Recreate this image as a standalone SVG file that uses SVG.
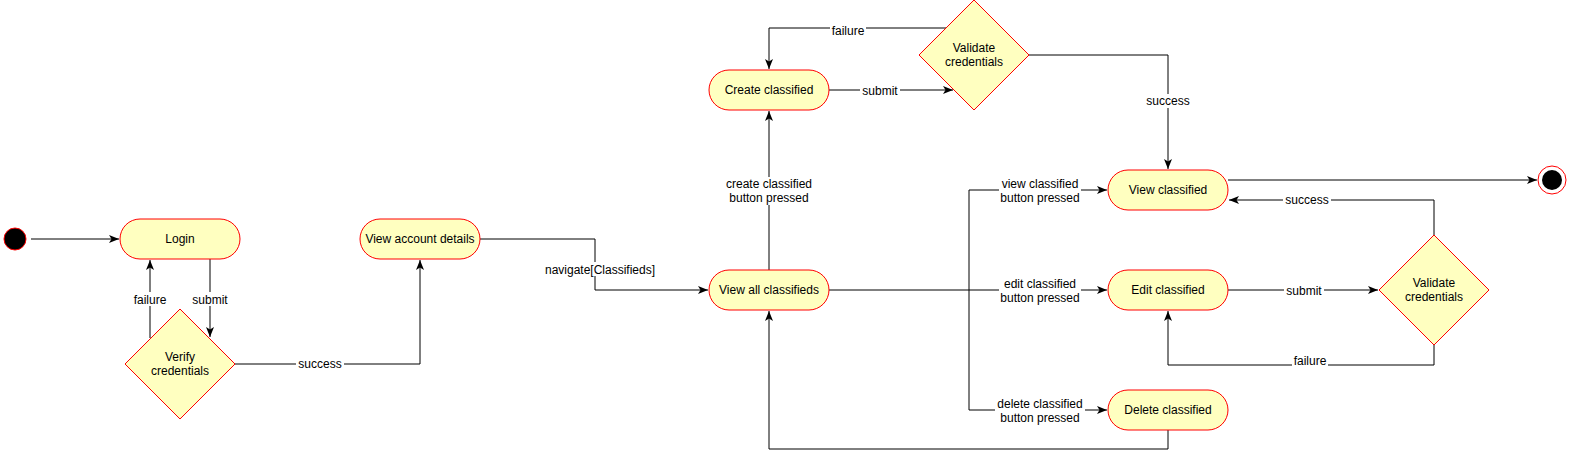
<svg xmlns="http://www.w3.org/2000/svg" width="1571" height="459" viewBox="0 0 1571 459">
<style>
.node{fill:#ffffc0;stroke:#ff0000;stroke-width:1}
.t{font-family:"Liberation Sans",Arial,sans-serif;font-size:12px;fill:#000;text-anchor:middle}
.l{font-family:"Liberation Sans",Arial,sans-serif;font-size:12px;fill:#000;text-anchor:middle}
.e{fill:none;stroke:#000;stroke-width:1}
.bg{fill:#fff}
</style>
<defs>
<marker id="a" viewBox="0 0 10 10" refX="10" refY="5" markerWidth="10" markerHeight="10" markerUnits="userSpaceOnUse" orient="auto">
<path d="M0,1 L10,5 L0,9 L2.5,5 Z" fill="#000"/>
</marker>
</defs>
<rect width="1571" height="459" fill="#fff"/>
<g id="connectors">
<path class="e" d="M31,239 H119" marker-end="url(#a)"/>
<path class="e" d="M210,259 V337" marker-end="url(#a)"/>
<path class="e" d="M150,338 V260" marker-end="url(#a)"/>
<path class="e" d="M235,364 H420 V260" marker-end="url(#a)"/>
<path class="e" d="M480,239 H595 V290 H708" marker-end="url(#a)"/>
<path class="e" d="M769,270 V111" marker-end="url(#a)"/>
<path class="e" d="M829,90 H953" marker-end="url(#a)"/>
<path class="e" d="M947,28 H769 V69" marker-end="url(#a)"/>
<path class="e" d="M1029,55 H1168 V169" marker-end="url(#a)"/>
<path class="e" d="M829,290 H969 V190 H1107" marker-end="url(#a)"/>
<path class="e" d="M969,290 H1107" marker-end="url(#a)"/>
<path class="e" d="M969,290 V410 H1107" marker-end="url(#a)"/>
<path class="e" d="M1168,430 V449 H769 V311" marker-end="url(#a)"/>
<path class="e" d="M1228,180 H1537" marker-end="url(#a)"/>
<path class="e" d="M1434,235 V200 H1229" marker-end="url(#a)"/>
<path class="e" d="M1228,290 H1378" marker-end="url(#a)"/>
<path class="e" d="M1434,345 V365 H1168 V311" marker-end="url(#a)"/>
<rect class="bg" x="190" y="292" width="40" height="14"/>
<text class="l" x="210" y="304">submit</text>
<rect class="bg" x="132" y="292" width="36" height="14"/>
<text class="l" x="150" y="304">failure</text>
<rect class="bg" x="296" y="357" width="48" height="14"/>
<text class="l" x="320" y="368">success</text>
<rect class="bg" x="543" y="262" width="114" height="14"/>
<text class="l" x="600" y="274">navigate[Classifieds]</text>
<rect class="bg" x="722" y="177" width="94" height="28"/>
<text class="l" x="769" y="188">create classified</text>
<text class="l" x="769" y="202">button pressed</text>
<rect class="bg" x="860" y="84" width="40" height="14"/>
<text class="l" x="880" y="95">submit</text>
<rect class="bg" x="830" y="24" width="36" height="14"/>
<text class="l" x="848" y="35">failure</text>
<rect class="bg" x="1144" y="94" width="48" height="14"/>
<text class="l" x="1168" y="105">success</text>
<rect class="bg" x="999" y="177" width="82" height="28"/>
<text class="l" x="1040" y="188">view classified</text>
<text class="l" x="1040" y="202">button pressed</text>
<rect class="bg" x="999" y="277" width="82" height="28"/>
<text class="l" x="1040" y="288">edit classified</text>
<text class="l" x="1040" y="302">button pressed</text>
<rect class="bg" x="995" y="397" width="90" height="28"/>
<text class="l" x="1040" y="408">delete classified</text>
<text class="l" x="1040" y="422">button pressed</text>
<rect class="bg" x="1283" y="193" width="48" height="14"/>
<text class="l" x="1307" y="204">success</text>
<rect class="bg" x="1284" y="284" width="40" height="14"/>
<text class="l" x="1304" y="295">submit</text>
<rect class="bg" x="1292" y="354" width="36" height="14"/>
<text class="l" x="1310" y="365">failure</text>
</g>
<g id="start"><circle cx="15" cy="239" r="11" fill="#000" stroke="#ff0000"/></g>
<g id="login"><rect class="node" x="120" y="219" width="120" height="40" rx="20"/><text class="t" x="180" y="243">Login</text></g>
<g id="verify"><path class="node" d="M180,309 L235,364 L180,419 L125,364 Z"/><text class="t" x="180" y="361">Verify</text><text class="t" x="180" y="375">credentials</text></g>
<g id="account"><rect class="node" x="360" y="219" width="120" height="40" rx="20"/><text class="t" x="420" y="243">View account details</text></g>
<g id="viewall"><rect class="node" x="709" y="270" width="120" height="40" rx="20"/><text class="t" x="769" y="294">View all classifieds</text></g>
<g id="create"><rect class="node" x="709" y="70" width="120" height="40" rx="20"/><text class="t" x="769" y="94">Create classified</text></g>
<g id="validate1"><path class="node" d="M974,0 L1029,55 L974,110 L919,55 Z"/><text class="t" x="974" y="52">Validate</text><text class="t" x="974" y="66">credentials</text></g>
<g id="viewclassified"><rect class="node" x="1108" y="170" width="120" height="40" rx="20"/><text class="t" x="1168" y="194">View classified</text></g>
<g id="edit"><rect class="node" x="1108" y="270" width="120" height="40" rx="20"/><text class="t" x="1168" y="294">Edit classified</text></g>
<g id="delete"><rect class="node" x="1108" y="390" width="120" height="40" rx="20"/><text class="t" x="1168" y="414">Delete classified</text></g>
<g id="validate2"><path class="node" d="M1434,235 L1489,290 L1434,345 L1379,290 Z"/><text class="t" x="1434" y="287">Validate</text><text class="t" x="1434" y="301">credentials</text></g>
<g id="end"><circle cx="1552" cy="180" r="14" fill="#fff" stroke="#ff0000"/><circle cx="1552" cy="180" r="10" fill="#000"/></g>
</svg>
